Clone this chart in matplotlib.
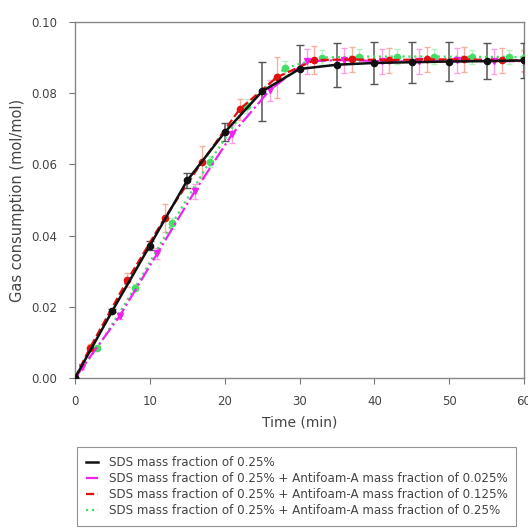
import matplotlib
matplotlib.use("Agg")
import matplotlib.pyplot as plt
import numpy as np

plt.rcParams['font.family'] = ['DejaVu Sans']

# SDS 0.25 %
t_sds = [0, 5, 10, 15, 20, 25, 30, 35, 40, 45, 50, 55, 60]
y_sds = [0.0, 0.0189, 0.0372, 0.0555, 0.0690, 0.0805, 0.0868, 0.0880, 0.0885, 0.0887, 0.0889, 0.0890, 0.0892]
e_sds = [0.0, 0.0005, 0.0012, 0.0020, 0.0025, 0.0083, 0.0068, 0.0062, 0.0060, 0.0057, 0.0055, 0.0050, 0.0050]

# + Antifoam-A 0.025 %
t_a1 = [0, 1, 6, 11, 16, 21, 26, 31, 36, 41, 46, 51, 56, 60]
y_a1 = [0.0, 0.0030, 0.0175, 0.0350, 0.0524, 0.0685, 0.0808, 0.0890, 0.0893, 0.0890, 0.0890, 0.0892, 0.0890, 0.0890]
e_a1 = [0.0, 0.0005, 0.0010, 0.0015, 0.0020, 0.0025, 0.0030, 0.0035, 0.0035, 0.0035, 0.0035, 0.0035, 0.0035, 0.0030]

# + Antifoam-A 0.125 %
t_a2 = [0, 2, 7, 12, 17, 22, 27, 32, 37, 42, 47, 52, 57, 60]
y_a2 = [0.0, 0.0085, 0.0275, 0.0450, 0.0608, 0.0755, 0.0845, 0.0893, 0.0895, 0.0893, 0.0895, 0.0895, 0.0893, 0.0892]
e_a2 = [0.0, 0.0010, 0.0020, 0.0040, 0.0045, 0.0030, 0.0058, 0.0040, 0.0035, 0.0035, 0.0035, 0.0035, 0.0035, 0.0030]

# + Antifoam-A 0.25 %
t_a3 = [0, 3, 8, 13, 18, 23, 28, 33, 38, 43, 48, 53, 58, 60]
y_a3 = [0.0, 0.0085, 0.0253, 0.0434, 0.0608, 0.0765, 0.0870, 0.0900, 0.0903, 0.0903, 0.0903, 0.0902, 0.0902, 0.0900]
e_a3 = [0.0, 0.0005, 0.0010, 0.0015, 0.0015, 0.0020, 0.0020, 0.0020, 0.0020, 0.0020, 0.0020, 0.0020, 0.0020, 0.0020]

labels = [
    "SDS mass fraction of 0.25%",
    "SDS mass fraction of 0.25% + Antifoam-A mass fraction of 0.025%",
    "SDS mass fraction of 0.25% + Antifoam-A mass fraction of 0.125%",
    "SDS mass fraction of 0.25% + Antifoam-A mass fraction of 0.25%",
]

fig = plt.figure(figsize=(5.28, 5.29), dpi=100)
ax = fig.add_axes([75/528, 1-378/529, (524-75)/528, (378-22)/529])

txt = '#444444'

# error bars
ax.errorbar(t_a3, y_a3, yerr=e_a3, fmt='none', ecolor='#b5f0c0', elinewidth=1, capsize=2.5, zorder=2)
ax.errorbar(t_a1, y_a1, yerr=e_a1, fmt='none', ecolor='#ffa0e0', elinewidth=1, capsize=2.5, zorder=2)
ax.errorbar(t_a2, y_a2, yerr=e_a2, fmt='none', ecolor='#f4b0a0', elinewidth=1, capsize=2.5, zorder=2)
ax.errorbar(t_sds, y_sds, yerr=e_sds, fmt='none', ecolor='#555555', elinewidth=1.1, capsize=3, zorder=3)

# lines
l3, = ax.plot(t_a3, y_a3, color='#44dd66', ls=':', lw=1.6, marker='o', ms=4.5, mec='#44dd66', zorder=4)
l1, = ax.plot(t_a1, y_a1, color='#ee22ee', ls='-.', lw=1.6, marker='v', ms=4.5, mec='#ee22ee', zorder=4)
l2, = ax.plot(t_a2, y_a2, color='#e01010', ls='--', lw=1.6, marker='o', ms=4.5, mec='#e01010', zorder=4)
l0, = ax.plot(t_sds, y_sds, color='#111111', ls='-', lw=1.8, marker='o', ms=4.5, zorder=5)

ax.set_xlim(0, 60)
ax.set_ylim(0, 0.10)
ax.set_xticks([0, 10, 20, 30, 40, 50, 60])
ax.set_yticks([0.00, 0.02, 0.04, 0.06, 0.08, 0.10])
ax.set_yticklabels(["0.00", "0.02", "0.04", "0.06", "0.08", "0.10"])
ax.tick_params(direction='out', length=4, width=0.8, labelsize=8.5, colors='#777777', labelcolor=txt)
ax.tick_params(axis='y', pad=9)
ax.tick_params(axis='x', pad=8)
ax.tick_params(top=False, right=False)
for s in ax.spines.values():
    s.set_color('#888888')
    s.set_linewidth(1.0)

ax.set_xlabel("Time (min)", fontsize=10, color=txt, labelpad=6)
ax.set_ylabel("Gas consumption (mol/mol)", fontsize=10.5, color=txt, labelpad=4)

leg = fig.legend([l0, l1, l2, l3], labels, loc='upper left',
                 bbox_to_anchor=(77/528, 1-447/529), fontsize=8.6,
                 frameon=True, fancybox=False, handlelength=1.0,
                 labelspacing=0.25, borderpad=0.75, handletextpad=0.9,
                 borderaxespad=0)
leg.get_frame().set_edgecolor('#777777')
leg.get_frame().set_linewidth(0.8)
for lh in leg.get_lines():
    lh.set_marker('')
for t in leg.get_texts():
    t.set_color(txt)

fig.savefig("out.png", dpi=100)
